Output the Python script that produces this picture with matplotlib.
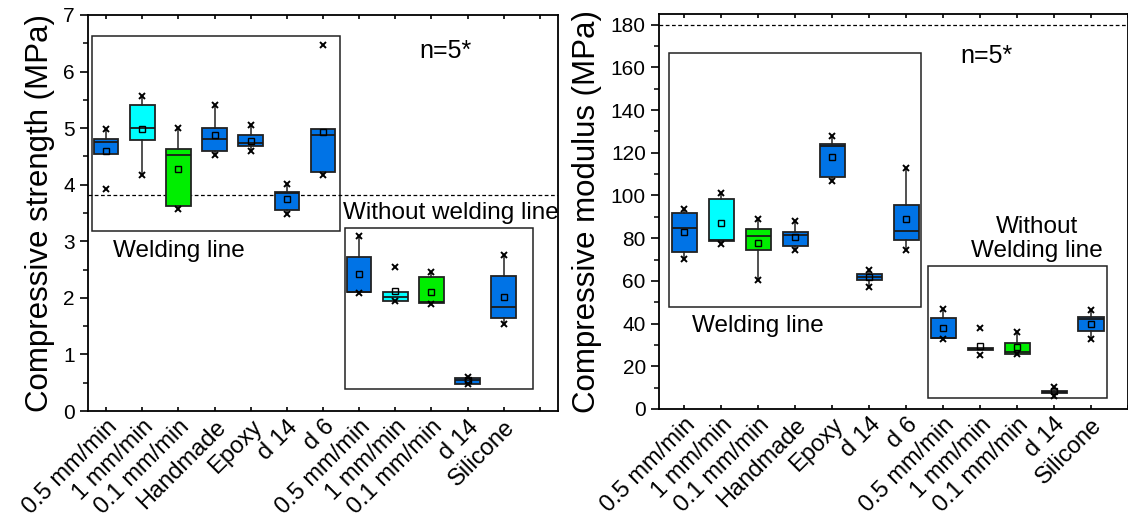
import matplotlib
matplotlib.use("Agg")
import matplotlib.pyplot as plt
import matplotlib.patches as patches
from matplotlib.ticker import MultipleLocator

plt.rcParams['font.family'] = ['Liberation Sans', 'DejaVu Sans']

labels = ['0.5 mm/min', '1 mm/min', '0.1 mm/min', 'Handmade', 'Epoxy', 'd 14', 'd 6',
          '0.5 mm/min', '1 mm/min', '0.1 mm/min', 'd 14', 'Silicone']
colors = ['#0073e6', '#00ffff', '#00ee00', '#0073e6', '#0073e6', '#0073e6', '#0073e6',
          '#0073e6', '#00ffff', '#00ee00', '#0073e6', '#0073e6']

# compressive strength (MPa)
s_q1 = [4.54, 4.79, 3.63, 4.59, 4.68, 3.56, 4.23, 2.10, 1.95, 1.91, 0.48, 1.64]
s_q3 = [4.80, 5.41, 4.63, 5.00, 4.88, 3.87, 4.98, 2.72, 2.11, 2.36, 0.59, 2.38]
s_med = [4.76, 5.00, 4.52, 4.81, 4.74, 3.86, 4.87, 2.11, 2.02, 1.92, 0.54, 1.83]
s_mean = [4.60, 4.99, 4.27, 4.87, 4.78, 3.75, 4.94, 2.43, 2.12, 2.11, 0.54, 2.02]
s_wlo = [4.54, 4.18, 3.57, 4.53, 4.59, 3.48, 4.17, 2.09, 1.95, 1.90, 0.47, 1.53]
s_whi = [4.98, 5.56, 5.00, 5.41, 5.05, 4.01, 4.98, 3.10, 2.11, 2.46, 0.60, 2.75]
s_min = [3.93, 4.18, 3.57, 4.53, 4.59, 3.48, 4.17, 2.09, 1.95, 1.90, 0.47, 1.53]
s_max = [4.98, 5.56, 5.00, 5.41, 5.05, 4.01, 6.47, 3.10, 2.54, 2.46, 0.60, 2.75]

# compressive modulus (MPa)
m_q1 = [73.75, 78.75, 74.4, 76.4, 108.6, 60.2, 79.2, 33.1, 27.8, 25.6, 7.5, 36.4]
m_q3 = [91.7, 98.4, 84.1, 82.7, 124.1, 63.0, 95.6, 42.5, 28.6, 30.9, 8.6, 43.0]
m_med = [85.0, 79.2, 81.25, 81.6, 123.1, 61.7, 83.4, 33.4, 28.1, 26.6, 8.0, 42.2]
m_mean = [82.8, 86.9, 77.8, 80.5, 118.1, 61.7, 89.2, 37.8, 29.7, 29.1, 8.3, 40.0]
m_wlo = [70.2, 77.2, 60.5, 74.4, 106.6, 57.3, 74.5, 32.7, 27.8, 25.6, 6.1, 32.7]
m_whi = [93.6, 101.1, 89.1, 88.1, 127.7, 65.2, 112.8, 46.9, 28.6, 36.25, 10.5, 46.4]
m_min = [70.2, 77.2, 60.5, 74.4, 106.6, 57.3, 74.5, 32.7, 25.5, 25.6, 6.1, 32.7]
m_max = [93.6, 101.1, 89.1, 88.1, 127.7, 65.2, 112.8, 46.9, 37.8, 36.25, 10.5, 46.4]


def draw_boxes(ax, q1, q3, med, mean, wlo, whi, vmin, vmax):
    pos = list(range(1, len(q1) + 1))
    stats = []
    for i in range(len(q1)):
        stats.append(dict(q1=q1[i], q3=q3[i], med=med[i], mean=mean[i],
                          whislo=wlo[i], whishi=whi[i], fliers=[]))
    bp = ax.bxp(stats, positions=pos, widths=0.68, patch_artist=True,
                showmeans=True, showcaps=False, showfliers=False,
                boxprops=dict(edgecolor='#222222', linewidth=1.3),
                medianprops=dict(color='#1a1a1a', linewidth=1.3),
                whiskerprops=dict(color='#222222', linewidth=1.1),
                meanprops=dict(marker='s', markersize=5, markerfacecolor='none',
                               markeredgecolor='black', markeredgewidth=1.0),
                zorder=3)
    for box, c in zip(bp['boxes'], colors):
        box.set_facecolor(c)
    # min / max markers
    ax.plot(pos, vmin, 'x', color='black', ms=5, mew=1.4, zorder=4)
    ax.plot(pos, vmax, 'x', color='black', ms=5, mew=1.4, zorder=4)


def style_axis(ax):
    ax.set_xticks(range(1, 14))
    ax.set_xticklabels(labels + [''], rotation=45, ha='right',
                       rotation_mode='anchor', fontsize=17)
    ax.tick_params(axis='x', which='major', direction='out', length=6, width=1.2)
    ax.tick_params(axis='y', which='major', direction='out', length=6, width=1.2,
                   labelsize=15)
    ax.tick_params(axis='y', which='minor', direction='out', length=3.5, width=1.1)
    ax.tick_params(top=True, which='major', axis='x', direction='in', length=3)
    for sp in ax.spines.values():
        sp.set_linewidth(1.3)


fig = plt.figure(figsize=(11.28, 5.17), dpi=100)
ax1 = fig.add_axes([0.0780, 0.2050, 0.4167, 0.7660])
ax2 = fig.add_axes([0.5842, 0.2089, 0.4158, 0.7640])

# left: strength
draw_boxes(ax1, s_q1, s_q3, s_med, s_mean, s_wlo, s_whi, s_min, s_max)
ax1.set_xlim(0.5, 13.5)
ax1.set_ylim(0, 7)
ax1.yaxis.set_major_locator(MultipleLocator(1))
ax1.yaxis.set_minor_locator(MultipleLocator(0.5))
style_axis(ax1)
ax1.set_ylabel('Compressive strength (MPa)', fontsize=22.5, labelpad=6)
ax1.axhline(3.81, color='black', linestyle=(0, (3, 2)), linewidth=0.9, zorder=2)
ax1.add_patch(patches.Rectangle((0.605, 3.18), 6.875, 3.44, fill=False,
                                edgecolor='#222222', linewidth=1.1, zorder=1))
ax1.add_patch(patches.Rectangle((7.61, 0.385), 5.2, 2.855, fill=False,
                                edgecolor='#222222', linewidth=1.1, zorder=1))
ax1.text(1.18, 2.82, 'Welding line', fontsize=17.5, va='center', ha='left')
ax1.text(7.55, 3.5, 'Without welding line', fontsize=17.5, va='center', ha='left')
ax1.text(10.38, 6.37, 'n=5*', fontsize=18, va='center', ha='center')

# right: modulus
draw_boxes(ax2, m_q1, m_q3, m_med, m_mean, m_wlo, m_whi, m_min, m_max)
ax2.set_xlim(0.31, 13.0)
ax2.set_ylim(0, 185)
ax2.yaxis.set_major_locator(MultipleLocator(20))
ax2.yaxis.set_minor_locator(MultipleLocator(10))
style_axis(ax2)
ax2.set_ylabel('Compressive modulus (MPa)', fontsize=22.5, labelpad=6)
ax2.axhline(180, color='black', linestyle=(0, (3, 2)), linewidth=0.9, zorder=2)
ax2.add_patch(patches.Rectangle((0.58, 47.7), 6.83, 119.0, fill=False,
                                edgecolor='#222222', linewidth=1.1, zorder=1))
ax2.add_patch(patches.Rectangle((7.59, 5.0), 4.84, 62.0, fill=False,
                                edgecolor='#222222', linewidth=1.1, zorder=1))
ax2.text(1.21, 38.9, 'Welding line', fontsize=17.5, va='center', ha='left')
ax2.text(10.53, 79.6, 'Without\nWelding line', fontsize=17.5, va='center',
         ha='center', linespacing=1.1)
ax2.text(9.18, 165.2, 'n=5*', fontsize=18, va='center', ha='center')

fig.savefig('out.png', dpi=100)
